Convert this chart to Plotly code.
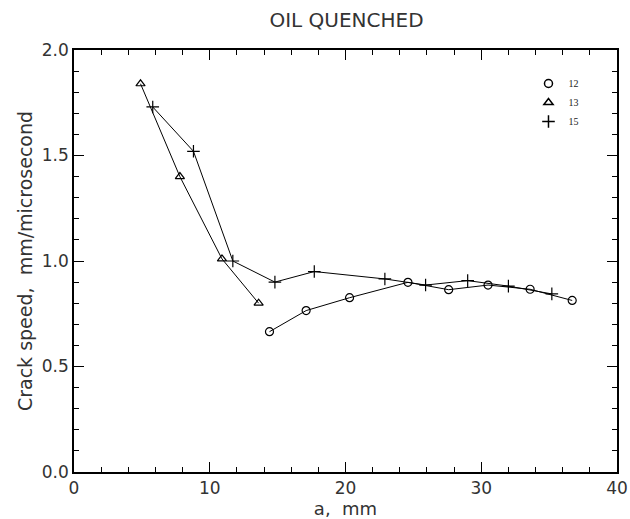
import plotly.graph_objects as go

# Series 12 (circles)
a12 = [14.4, 17.1, 20.3, 24.6, 27.6, 30.5, 33.6, 36.7]
v12 = [0.665, 0.765, 0.826, 0.899, 0.864, 0.886, 0.866, 0.813]
# Series 13 (triangles)
a13 = [4.9, 7.8, 10.9, 13.6]
v13 = [1.84, 1.40, 1.01, 0.80]
# Series 15 (pluses)
a15 = [5.8, 8.8, 11.7, 14.8, 17.7, 22.9, 25.9, 29.0, 32.0, 35.2]
v15 = [1.73, 1.52, 1.00, 0.90, 0.95, 0.915, 0.886, 0.907, 0.881, 0.844]

series = [
    ("12", a12, v12, "circle-open", 8),
    ("13", a13, v13, "triangle-up-open", 8),
    ("15", a15, v15, "cross-thin-open", 9),
]

fig = go.Figure()
for name, xs, ys, sym, sz in series:
    fig.add_trace(go.Scatter(
        x=xs, y=ys, mode="lines+markers", showlegend=False, cliponaxis=False,
        line=dict(color="black", width=1),
        marker=dict(symbol=sym, size=sz, color="black", line=dict(color="black", width=1.2)),
    ))
for name, xs, ys, sym, sz in series:
    fig.add_trace(go.Scatter(
        x=[None], y=[None], mode="markers", name=name,
        marker=dict(symbol=sym, size=sz, color="black", line=dict(color="black", width=1.5)),
    ))

tickfont = dict(family="DejaVu Sans", size=17, color="#333")
common = dict(ticks="inside", ticklen=10, tickwidth=1.3, tickcolor="black",
              showline=True, linecolor="black", linewidth=1.5, mirror="allticks",
              showgrid=False, zeroline=False, tickfont=tickfont, layer="above traces",
              ticklabeloverflow="allow", automargin=False)
fig.update_layout(
    width=630, height=519,
    margin=dict(l=74, r=13, t=50, b=47, autoexpand=False),
    paper_bgcolor="white", plot_bgcolor="white",
    title=dict(text="OIL QUENCHED", x=0.55, xanchor="center", y=0.962, yanchor="middle",
               font=dict(family="DejaVu Sans", size=20, color="#333")),
    legend=dict(x=0.837, y=0.955, xanchor="left", yanchor="top",
                font=dict(family="Liberation Serif", size=10, color="#222"),
                bgcolor="rgba(0,0,0,0)", itemwidth=30, tracegroupgap=0),
    xaxis=dict(range=[0, 40], dtick=10, tick0=0, **common,
               minor=dict(dtick=2, ticks="inside", ticklen=5, tickcolor="black", tickwidth=1, showgrid=False),
               title=dict(text="a,  mm", font=dict(family="DejaVu Sans", size=18, color="#333"), standoff=4)),
    yaxis=dict(range=[0, 2.0], dtick=0.5, tick0=0, tickformat=".1f", **common,
               minor=dict(dtick=0.1, ticks="inside", ticklen=5, tickcolor="black", tickwidth=1, showgrid=False),
               title=dict(text="Crack speed,  mm/microsecond", font=dict(family="DejaVu Sans", size=19, color="#333"), standoff=4)),
)

fig.write_html("out.html")
